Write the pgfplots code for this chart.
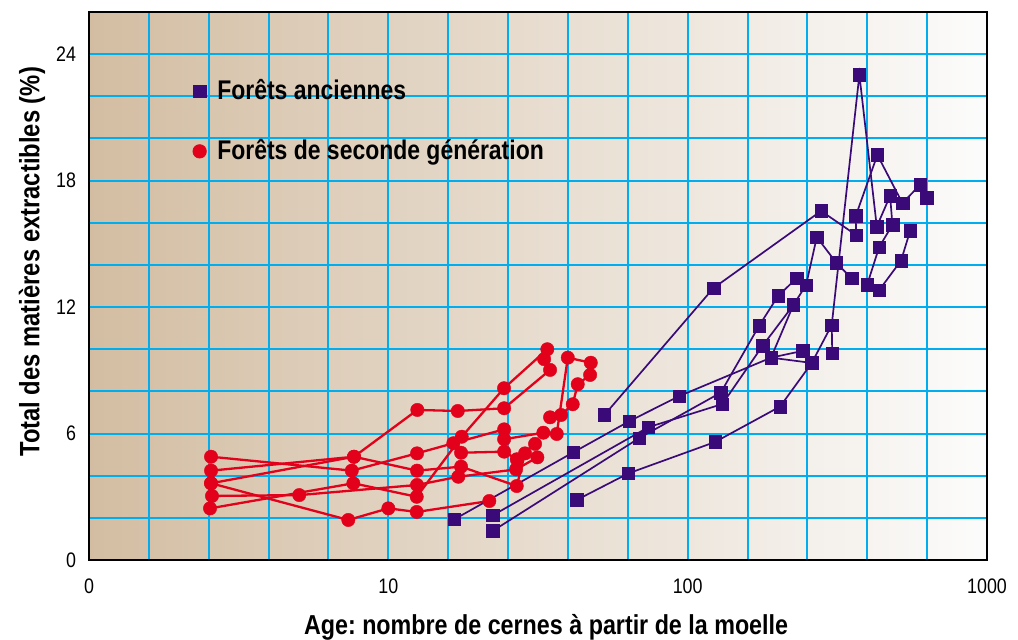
\documentclass[border=0pt]{standalone}
\usepackage{fontspec}
\setmainfont{Liberation Sans}[FakeStretch=0.85]
\usepackage{pgfplots}
\pgfplotsset{compat=1.18}
\definecolor{purp}{RGB}{58,11,120}
\definecolor{rouge}{RGB}{226,0,26}
\definecolor{gridc}{RGB}{0,174,239}
\definecolor{bgL}{RGB}{211,189,162}
\definecolor{bgM}{RGB}{230,218,201}
\definecolor{bgR}{RGB}{252,252,252}
\frenchspacing
\begin{document}
\begin{tikzpicture}
\useasboundingbox (-44.5pt,-39.5pt) rectangle (464.5pt,280pt);
\begin{axis}[
  scale only axis, width=449pt, height=274pt,
  xmode=log, xmin=1, xmax=1000, ymin=0, ymax=26,
  xtick={1,10,100,1000}, xticklabels={0,10,100,1000},
  minor xtick={1.585,2.512,3.981,6.310,15.85,25.12,39.81,63.10,158.5,251.2,398.1,631.0},
  ytick={0,6,12,18,24}, yticklabels={0,6,12,18,24},
  minor ytick={2,4,8,10,14,16,20,22},
  grid=both,
  major grid style={gridc, line width=1pt},
  minor grid style={gridc, line width=1pt},
  major tick length=0pt, minor tick length=0pt,
  axis line style={black, line width=1.1pt},
  axis background/.style={left color=bgL, middle color=bgM, right color=bgR},
  tick label style={font=\fontsize{10.5}{12}\selectfont},
  xticklabel style={yshift=-6pt},
  yticklabel style={xshift=-3pt},
  /pgf/number format/assume math mode=true,
  xlabel={Age: nombre de cernes à partir de la moelle},
  ylabel={Total des matières extractibles (\%)},
  xlabel style={at={(axis description cs:0.509,-0.1223)}, anchor=center, font=\bfseries\fontsize{13.7}{16}\selectfont},
  ylabel style={at={(axis description cs:-0.0635,0.544)}, anchor=center, rotate=0, font=\bfseries\fontsize{14}{16}\selectfont},
  legend style={at={(axis description cs:0.1153,0.881)}, anchor=north west, draw=none, fill=none,
    font=\bfseries\fontsize{13.5}{16}\selectfont, row sep=16.5pt, inner sep=0pt,
    nodes={inner sep=1pt},
    /tikz/every odd column/.append style={column sep=4.5pt}},
  legend cell align=left,
  legend image code/.code={\draw[#1] plot coordinates {(0pt,0pt)};},
]
% ---- second generation (red) ----
\pgfplotsset{redser/.style={rouge, line width=1.15pt, mark=*, mark size=3.35pt, mark options={solid, line width=0.2pt}, forget plot}}
\addplot[redser] coordinates {(2.557,4.90) (7.55,4.24) (12.47,5.06) (16.49,5.54) (24.37,6.20)};
\addplot[redser] coordinates {(2.557,4.24) (7.68,4.90) (12.50,7.12) (17.06,7.07) (24.37,7.20) (34.70,9.02)};
\addplot[redser] coordinates {(2.557,3.64) (7.35,1.90) (10.0,2.45) (12.44,2.28) (21.75,2.80)};
\addplot[redser] coordinates {(2.576,3.04) (5.04,3.08) (12.47,3.56) (17.13,3.95) (26.71,4.30) (31.47,4.87)};
\addplot[redser] coordinates {(2.557,3.64) (7.68,4.90) (12.47,4.24) (17.50,4.43) (26.85,3.51) (28.62,5.06)};
\addplot[redser] coordinates {(2.537,2.45) (7.64,3.64) (12.44,3.00) (17.59,5.85) (24.35,8.15) (33.98,10.00) (33.14,9.53)};
\addplot[redser] coordinates {(17.50,5.09) (24.37,5.14) (26.85,4.78) (30.92,5.51)};
\addplot[redser] coordinates {(24.37,5.73) (32.96,6.04) (36.53,5.98) (39.77,9.60) (47.46,9.36) (47.21,8.78) (42.93,8.34) (41.31,7.39) (37.76,6.88) (34.70,6.77)};
% ---- old forests (purple) ----
\pgfplotsset{purser/.style={purp, line width=0.85pt, mark=square*, mark size=3.15pt, mark options={solid, line width=0.2pt}, forget plot}}
\addplot[purser] coordinates {(16.62,1.93) (41.51,5.11) (63.73,6.58) (93.82,7.78) (189.9,9.60) (259.8,9.35) (302.9,11.15) (374.7,23.02) (428.3,15.82) (474.6,17.28) (483.1,15.90) (436.0,14.84) (397.6,13.05) (436.7,12.81) (516.4,14.21) (553.4,15.61)};
\addplot[purser] coordinates {(22.33,2.12) (73.91,6.30) (130.6,7.40) (177.9,10.16) (225.5,12.10) (248.6,13.04) (270.0,15.32) (313.1,14.12) (352.4,13.37)};
\addplot[purser] coordinates {(22.33,1.38) (68.81,5.78) (129.0,7.94) (173.2,11.11) (200.5,12.53) (231.2,13.37)};
\addplot[purser] coordinates {(42.61,2.85) (63.39,4.11) (123.5,5.60) (203.6,7.28) (259.8,9.35)};
\addplot[purser] coordinates {(52.70,6.88) (121.9,12.90) (279.1,16.56) (365.3,15.42) (364.4,16.33) (430.3,19.22) (521.8,16.93) (597.6,17.80) (629.3,17.20)};
\addplot[purser] coordinates {(242.0,9.92) (189.9,9.60) (225.5,12.10)};
\addplot[purser] coordinates {(304.1,9.82) (302.9,11.15)};
% ---- legend ----
\addlegendimage{only marks, mark=square*, mark size=3.15pt, purp}
\addlegendentry{Forêts anciennes}
\addlegendimage{only marks, mark=*, mark size=3.35pt, rouge}
\addlegendentry{Forêts de seconde génération}
\end{axis}
\end{tikzpicture}
\end{document}
